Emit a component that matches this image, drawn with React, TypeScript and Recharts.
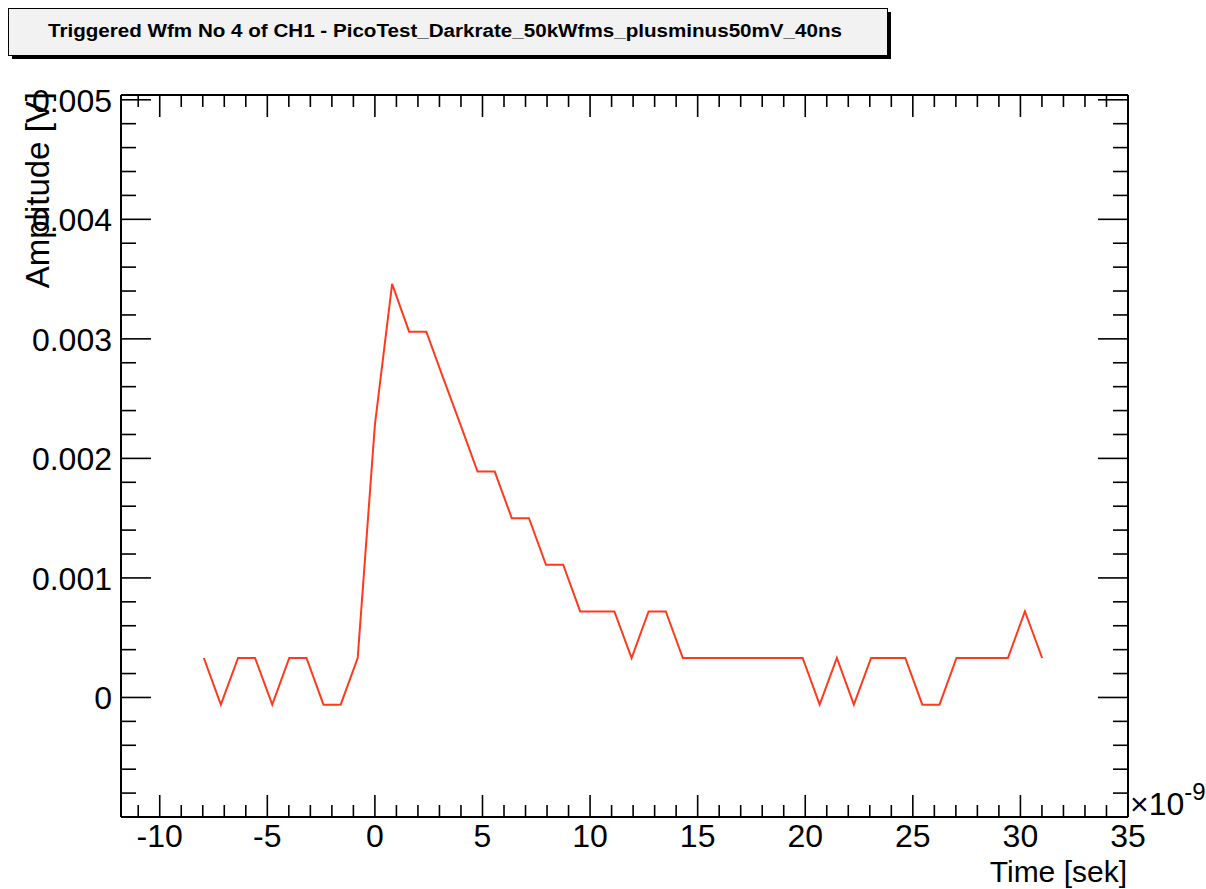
import { Line, LineChart, XAxis, YAxis } from 'recharts'

// waveform samples (time in ns, amplitude in V)
const timeNs = [
  -7.95, -7.16, -6.36, -5.57, -4.77, -3.98, -3.18, -2.39, -1.59, -0.8,
  0.0, 0.8, 1.59, 2.39, 3.18, 3.98, 4.77, 5.57, 6.36, 7.16,
  7.95, 8.75, 9.54, 10.34, 11.13, 11.93, 12.72, 13.52, 14.31, 15.11,
  15.9, 16.7, 17.49, 18.29, 19.08, 19.88, 20.67, 21.47, 22.26, 23.06,
  23.85, 24.65, 25.44, 26.24, 27.03, 27.83, 28.62, 29.42, 30.21, 31.01
]

const amplitudeV = [
  0.00033, -0.00006, 0.00033, 0.00033, -0.00006, 0.00033, 0.00033, -0.00006, -0.00006, 0.00033,
  0.00228, 0.00346, 0.00306, 0.00306, 0.00267, 0.00228, 0.00189, 0.00189, 0.0015, 0.0015,
  0.00111, 0.00111, 0.00072, 0.00072, 0.00072, 0.00033, 0.00072, 0.00072, 0.00033, 0.00033,
  0.00033, 0.00033, 0.00033, 0.00033, 0.00033, 0.00033, -0.00006, 0.00033, -0.00006, 0.00033,
  0.00033, 0.00033, -0.00006, -0.00006, 0.00033, 0.00033, 0.00033, 0.00033, 0.00072, 0.00033
]

const xMajorTicks = [-10, -5, 0, 5, 10, 15, 20, 25, 30, 35]
const xMinorTicks = [
  -11, -9, -8, -7, -6, -4, -3, -2, -1, 1, 2, 3, 4, 6, 7, 8, 9, 11, 12, 13, 14,
  16, 17, 18, 19, 21, 22, 23, 24, 26, 27, 28, 29, 31, 32, 33, 34
]
const yMajorTicks = [0, 0.001, 0.002, 0.003, 0.004, 0.005]
const yMinorTicks = [
  -0.0008, -0.0006, -0.0004, -0.0002, 0.0002, 0.0004, 0.0006, 0.0008,
  0.0012, 0.0014, 0.0016, 0.0018, 0.0022, 0.0024, 0.0026, 0.0028,
  0.0032, 0.0034, 0.0036, 0.0038, 0.0042, 0.0044, 0.0046, 0.0048
]

const titleText = 'Triggered Wfm No 4 of CH1 - PicoTest_Darkrate_50kWfms_plusminus50mV_40ns'
const xTitle = 'Time [sek]'
const yTitle = 'Amplitude [V]'

const data = timeNs.map((t, i) => ({ t, v: amplitudeV[i] }))
const xTicks = [...xMajorTicks, ...xMinorTicks]
const yTicks = [...yMajorTicks, ...yMinorTicks]

const FONT = '"Liberation Sans", Arial, Helvetica, sans-serif'
const LABEL_SIZE = 32

function BottomTick({ x, y, payload }: any) {
  const major = xMajorTicks.includes(payload.value)
  return (
    <g>
      <line x1={x} x2={x} y1={y} y2={y - (major ? 22 : 12)} stroke="#000" strokeWidth={1.6} />
      {major && (
        <text x={x} y={y + 30} textAnchor="middle" fontSize={LABEL_SIZE} fontFamily={FONT} fill="#000">
          {payload.value}
        </text>
      )}
    </g>
  )
}

function TopTick({ x, y, payload }: any) {
  const major = xMajorTicks.includes(payload.value)
  return <line x1={x} x2={x} y1={y} y2={y + (major ? 22 : 12)} stroke="#000" strokeWidth={1.6} />
}

function LeftTick({ x, y, payload }: any) {
  const major = yMajorTicks.includes(payload.value)
  return (
    <g>
      <line x1={x} x2={x + (major ? 30 : 15)} y1={y} y2={y} stroke="#000" strokeWidth={1.6} />
      {major && (
        <text x={x - 9} y={y + 12} textAnchor="end" fontSize={LABEL_SIZE} fontFamily={FONT} fill="#000">
          {payload.value}
        </text>
      )}
    </g>
  )
}

function RightTick({ x, y, payload }: any) {
  const major = yMajorTicks.includes(payload.value)
  return <line x1={x} x2={x - (major ? 30 : 15)} y1={y} y2={y} stroke="#000" strokeWidth={1.6} />
}

const axisLine = { stroke: '#000', strokeWidth: 2 }

export default function App() {
  return (
    <div style={{ position: 'absolute', left: 0, top: 0, width: 1206, height: 889, background: '#fff' }}>
      <LineChart
        width={1206}
        height={889}
        data={data}
        margin={{ top: 85, right: 68, bottom: 12, left: 11 }}
      >
        <XAxis
          xAxisId="bottom"
          dataKey="t"
          type="number"
          domain={[-11.8, 35]}
          allowDataOverflow
          ticks={xTicks}
          interval={0}
          height={60}
          tickSize={0}
          tickMargin={0}
          tickLine={false}
          axisLine={axisLine}
          tick={<BottomTick />}
        />
        <XAxis
          xAxisId="top"
          orientation="top"
          dataKey="t"
          type="number"
          domain={[-11.8, 35]}
          allowDataOverflow
          ticks={xTicks}
          interval={0}
          height={10}
          tickSize={0}
          tickMargin={0}
          tickLine={false}
          axisLine={axisLine}
          tick={<TopTick />}
        />
        <YAxis
          yAxisId="left"
          type="number"
          domain={[-0.001, 0.00504]}
          allowDataOverflow
          ticks={yTicks}
          interval={0}
          width={110}
          tickSize={0}
          tickMargin={0}
          tickLine={false}
          axisLine={axisLine}
          tick={<LeftTick />}
        />
        <YAxis
          yAxisId="right"
          orientation="right"
          type="number"
          domain={[-0.001, 0.00504]}
          allowDataOverflow
          ticks={yTicks}
          interval={0}
          width={10}
          tickSize={0}
          tickMargin={0}
          tickLine={false}
          axisLine={axisLine}
          tick={<RightTick />}
        />
        <Line
          xAxisId="bottom"
          yAxisId="left"
          type="linear"
          dataKey="v"
          stroke="#ff3a1c"
          strokeWidth={2}
          dot={false}
          isAnimationActive={false}
        />
      </LineChart>
      <svg
        width={1206}
        height={889}
        style={{ position: 'absolute', left: 0, top: 0, pointerEvents: 'none' }}
        fontFamily={FONT}
      >
        <rect x={12} y={12} width={879} height={47} fill="#000" />
        <rect x={8.5} y={8.5} width={879} height={47} fill="#f2f2f2" stroke="#000" strokeWidth={1} />
        <text
          x={48}
          y={37}
          fontSize={18}
          fontWeight="bold"
          textLength={794}
          lengthAdjust="spacingAndGlyphs"
          fill="#000"
        >
          {titleText}
        </text>
        <text x={1127} y={882} textAnchor="end" fontSize={30} fill="#000">
          {xTitle}
        </text>
        <text x={1130} y={815} fontSize={LABEL_SIZE} fill="#000">
          ×10
          <tspan dy={-15} fontSize={24}>-9</tspan>
        </text>
        <text
          transform="translate(49, 92) rotate(-90)"
          textAnchor="end"
          fontSize={33}
          fill="#000"
        >
          {yTitle}
        </text>
      </svg>
    </div>
  )
}
